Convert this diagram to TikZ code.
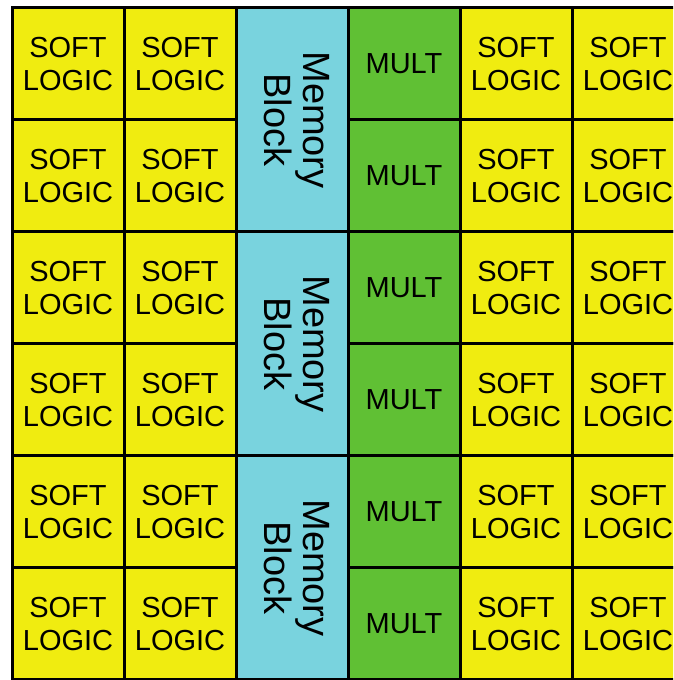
\documentclass[tikz,border=0pt]{standalone}
\usepackage{fontspec}
\usepackage{graphicx}
\setmainfont{Liberation Sans}
\definecolor{softyellow}{RGB}{240,236,16}
\definecolor{memblue}{RGB}{121,211,222}
\definecolor{multgreen}{RGB}{96,192,52}
\newcommand{\memtext}{\rotatebox{-90}{\begin{tabular}{@{}c@{}}Memory\\Block\end{tabular}}}

\begin{document}
\begin{tikzpicture}[
    x=1pt, y=1pt,
    node distance=112pt,
    cell/.style={rectangle, draw=black, line width=3pt, minimum width=112pt, minimum height=112pt, inner sep=0pt, align=center},
    softbox/.style={cell, fill=softyellow, font=\fontsize{29}{33}\selectfont},
    multbox/.style={cell, fill=multgreen, font=\fontsize{29}{33}\selectfont},
    membox/.style={cell, fill=memblue, minimum height=224pt, font=\fontsize{38}{38}\selectfont}
]
\path[use as bounding box, clip] (0,0) rectangle (673,680);

% Left soft logic
\node (lsoft11) [softbox] at (68,616) {SOFT\\LOGIC};
\node (lsoft12) [softbox, right of=lsoft11] {SOFT\\LOGIC};
\node (lsoft21) [softbox, below of=lsoft11] {SOFT\\LOGIC};
\node (lsoft22) [softbox, right of=lsoft21] {SOFT\\LOGIC};
\node (lsoft31) [softbox, below of=lsoft21] {SOFT\\LOGIC};
\node (lsoft32) [softbox, right of=lsoft31] {SOFT\\LOGIC};
\node (lsoft41) [softbox, below of=lsoft31] {SOFT\\LOGIC};
\node (lsoft42) [softbox, right of=lsoft41] {SOFT\\LOGIC};
\node (lsoft51) [softbox, below of=lsoft41] {SOFT\\LOGIC};
\node (lsoft52) [softbox, right of=lsoft51] {SOFT\\LOGIC};
\node (lsoft61) [softbox, below of=lsoft51] {SOFT\\LOGIC};
\node (lsoft62) [softbox, right of=lsoft61] {SOFT\\LOGIC};

% Memory blocks
\node (mem1) [membox, right of=lsoft12, yshift=-56pt] {\memtext};
\node (mem2) [membox, below of=mem1, node distance=224pt] {\memtext};
\node (mem3) [membox, below of=mem2, node distance=224pt] {\memtext};

% Multipliers
\node (mult1) [multbox, right of=lsoft12, node distance=224pt] {MULT};
\node (mult2) [multbox, below of=mult1] {MULT};
\node (mult3) [multbox, below of=mult2] {MULT};
\node (mult4) [multbox, below of=mult3] {MULT};
\node (mult5) [multbox, below of=mult4] {MULT};
\node (mult6) [multbox, below of=mult5] {MULT};

% Right soft logic
\node (rsoft11) [softbox, right of=mult1] {SOFT\\LOGIC};
\node (rsoft12) [softbox, right of=rsoft11] {SOFT\\LOGIC};
\node (rsoft21) [softbox, below of=rsoft11] {SOFT\\LOGIC};
\node (rsoft22) [softbox, right of=rsoft21] {SOFT\\LOGIC};
\node (rsoft31) [softbox, below of=rsoft21] {SOFT\\LOGIC};
\node (rsoft32) [softbox, right of=rsoft31] {SOFT\\LOGIC};
\node (rsoft41) [softbox, below of=rsoft31] {SOFT\\LOGIC};
\node (rsoft42) [softbox, right of=rsoft41] {SOFT\\LOGIC};
\node (rsoft51) [softbox, below of=rsoft41] {SOFT\\LOGIC};
\node (rsoft52) [softbox, right of=rsoft51] {SOFT\\LOGIC};
\node (rsoft61) [softbox, below of=rsoft51] {SOFT\\LOGIC};
\node (rsoft62) [softbox, right of=rsoft61] {SOFT\\LOGIC};

\end{tikzpicture}
\end{document}
